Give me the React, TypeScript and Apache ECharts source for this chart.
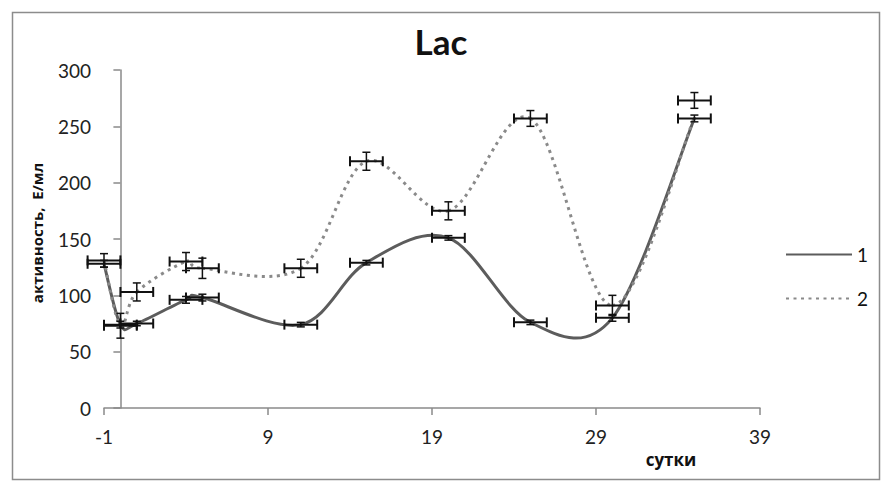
import React, { useEffect, useRef } from "react";
import * as echarts from "echarts";

// Days (x) for both series
const days = [-1, 0, 1, 4, 5, 11, 15, 20, 25, 30, 35];
// Series "1" (solid) values
const series1 = [128, 74, 75, 96, 98, 74, 129, 151, 76, 80, 257];
// Series "2" (dotted) values
const series2 = [131, 73, 103, 130, 124, 124, 219, 175, 257, 91, 258];
// Error bar centres and half-widths
const err1Y = [128, 74, 75, 96, 98, 74, 129, 151, 76, 80, 257];
const err1Ye = [3, 3, 2, 3, 3, 2, 2, 2, 2, 3, 3];
const err2Y = [131, 73, 103, 130, 124, 124, 219, 175, 257, 91, 273];
const err2Ye = [6, 11, 8, 8, 9, 8, 8, 8, 7, 9, 7];
const errXe = [1, 1, 1, 1, 1, 1, 1, 1, 1, 1, 1];

const xTicks = { min: -1, max: 39, interval: 10 };
const yTicks = { min: 0, max: 300, interval: 50 };

const title = "Lac";
const yName = "активность,  Е/мл";
const xName = "сутки";
const names = ["1", "2"];

export default function App() {
  const ref = useRef<HTMLDivElement>(null);
  useEffect(() => {
    if (!ref.current) return;
    const chart = echarts.init(ref.current, undefined, { renderer: "svg" });
    const errData = (ys: number[], yes: number[]) =>
      days.map((d, i) => [d, ys[i], errXe[i], yes[i]]);
    const renderErr = (params: any, api: any) => {
      const x = api.value(0), y = api.value(1), xe = api.value(2), ye = api.value(3);
      const c = api.coord([x, y]);
      const l = api.coord([x - xe, y]);
      const r = api.coord([x + xe, y]);
      const t = api.coord([x, y + ye]);
      const b = api.coord([x, y - ye]);
      const st = { stroke: "#111", lineWidth: 2 };
      const st2 = { stroke: "#111", lineWidth: 1.5 };
      const hc = 5, vc = 4;
      return {
        type: "group",
        children: [
          { type: "line", shape: { x1: l[0], y1: c[1], x2: r[0], y2: c[1] }, style: st },
          { type: "line", shape: { x1: l[0], y1: c[1] - hc, x2: l[0], y2: c[1] + hc }, style: st },
          { type: "line", shape: { x1: r[0], y1: c[1] - hc, x2: r[0], y2: c[1] + hc }, style: st },
          { type: "line", shape: { x1: c[0], y1: t[1], x2: c[0], y2: b[1] }, style: st2 },
          { type: "line", shape: { x1: c[0] - vc, y1: t[1], x2: c[0] + vc, y2: t[1] }, style: st2 },
          { type: "line", shape: { x1: c[0] - vc, y1: b[1], x2: c[0] + vc, y2: b[1] }, style: st2 },
        ],
      };
    };
    // Excel-like smoothed curve (Catmull-Rom style bezier through the data points)
    const makeCurve = (xs: number[], ys: number[], style: any) => (params: any, api: any) => {
      const i = params.dataIndex;
      const n = xs.length;
      if (i >= n - 1) return null;
      const P = (k: number) => {
        const kk = Math.max(0, Math.min(n - 1, k));
        return api.coord([xs[kk], ys[kk]]);
      };
      const p0 = P(i - 1), p1 = P(i), p2 = P(i + 1), p3 = P(i + 2);
      const t = 1 / 6;
      return {
        type: "bezierCurve",
        shape: {
          x1: p1[0],
          y1: p1[1],
          x2: p2[0],
          y2: p2[1],
          cpx1: p1[0] + (p2[0] - p0[0]) * t,
          cpy1: p1[1] + (p2[1] - p0[1]) * t,
          cpx2: p2[0] - (p3[0] - p1[0]) * t,
          cpy2: p2[1] - (p3[1] - p1[1]) * t,
        },
        style: { ...style, fill: null },
      };
    };
    chart.setOption({
      animation: false,
      backgroundColor: "#fff",
      textStyle: { fontFamily: "Lato" },
      grid: { left: 104, right: 122, top: 70, bottom: 76, containLabel: false },
      legend: {
        data: names,
        orient: "vertical",
        left: 780,
        top: 240,
        itemWidth: 66,
        itemHeight: 16,
        itemGap: 25,
        itemStyle: { opacity: 0 },
        textStyle: { fontSize: 19, color: "#111", fontFamily: "Lato", padding: [0, 0, 0, 0] },
      },
      xAxis: {
        type: "value",
        min: xTicks.min,
        max: xTicks.max,
        interval: xTicks.interval,
        axisLine: { lineStyle: { color: "#8a8a8a", width: 1.5 } },
        axisTick: { length: 7, lineStyle: { color: "#8a8a8a", width: 1.5 } },
        axisLabel: { fontSize: 19, color: "#222", margin: 19, fontFamily: "Lato" },
        splitLine: { show: false },
      },
      yAxis: {
        type: "value",
        min: yTicks.min,
        max: yTicks.max,
        interval: yTicks.interval,
        axisLine: { show: true, onZero: true, lineStyle: { color: "#8a8a8a", width: 1.5 } },
        axisTick: { show: true, length: 7, lineStyle: { color: "#8a8a8a", width: 1.5 } },
        axisLabel: { fontSize: 19, color: "#222", margin: 13, fontFamily: "Lato" },
        splitLine: { show: false },
      },
      graphic: [
        {
          type: "rect",
          left: 10,
          top: 10,
          shape: { width: 867, height: 467 },
          style: { fill: "none", stroke: "#8c8c8c", lineWidth: 1.5 },
          silent: true,
        },
        {
          type: "text",
          left: "center",
          top: 23,
          style: { text: title, fontSize: 35, fontWeight: "bold", fill: "#111", fontFamily: "Lato" },
        },
        {
          type: "text",
          x: 37,
          y: 233,
          rotation: Math.PI / 2,
          style: {
            text: yName,
            fontSize: 15,
            fontWeight: "bold",
            fill: "#111",
            fontFamily: "Open Sans",
            align: "center",
            verticalAlign: "middle",
          },
        },
        {
          type: "text",
          x: 671,
          y: 459,
          style: {
            text: xName,
            fontSize: 17,
            fontWeight: "bold",
            fill: "#111",
            fontFamily: "Open Sans",
            align: "center",
            verticalAlign: "middle",
          },
        },
      ],
      series: [
        {
          name: names[0],
          type: "line",
          data: [],
          symbol: "none",
          lineStyle: { color: "#5c5c5c", width: 3 },
          itemStyle: { color: "#5c5c5c" },
        },
        {
          name: names[1],
          type: "line",
          data: [],
          symbol: "none",
          lineStyle: { color: "#8a8a8a", width: 3, type: [3, 4.5] },
          itemStyle: { color: "#8a8a8a" },
        },
        {
          name: "curve1",
          type: "custom",
          data: days.map((d, i) => [d, series1[i]]),
          renderItem: makeCurve(days, series1, {
            stroke: "#5c5c5c",
            lineWidth: 3,
            lineCap: "round",
          }),
          z: 2,
        },
        {
          name: "curve2",
          type: "custom",
          data: days.map((d, i) => [d, series2[i]]),
          renderItem: makeCurve(days, series2, {
            stroke: "#8a8a8a",
            lineWidth: 3,
            lineDash: [3, 4.5],
          }),
          z: 2,
        },
        {
          name: "err1",
          type: "custom",
          data: errData(err1Y, err1Ye),
          renderItem: renderErr,
          z: 3,
        },
        {
          name: "err2",
          type: "custom",
          data: errData(err2Y, err2Ye),
          renderItem: renderErr,
          z: 3,
        },
      ],
    });
    return () => chart.dispose();
  }, []);
  return (
    <div
      ref={ref}
      style={{ position: "fixed", left: 0, top: 0, width: 882, height: 484 }}
    />
  );
}
